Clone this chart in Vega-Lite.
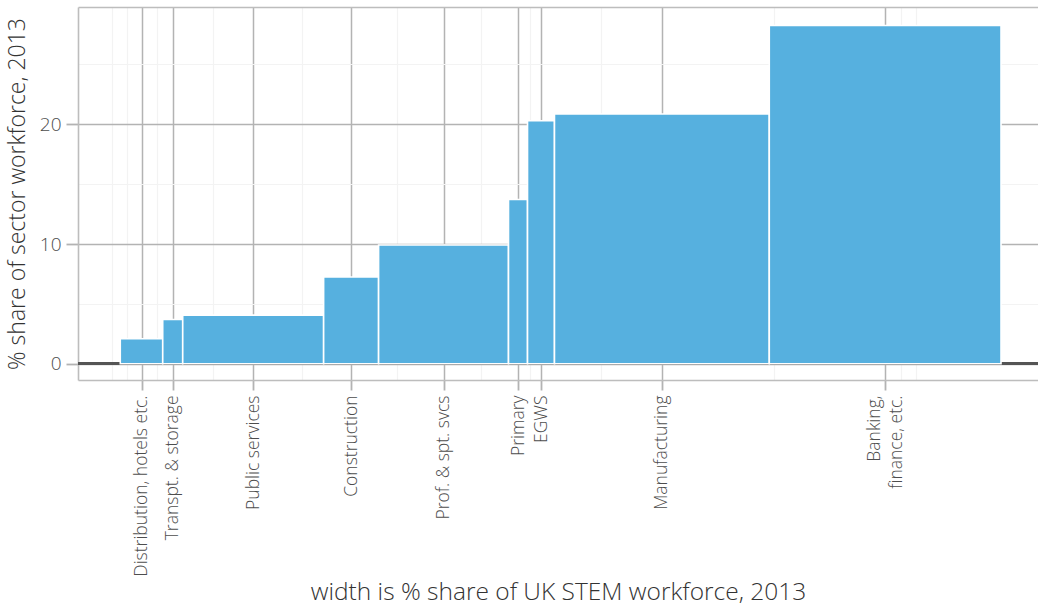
{
  "$schema": "https://vega.github.io/schema/vega-lite/v6.json",
  "autosize": "none",
  "width": 960,
  "height": 373,
  "padding": {"left": 78, "top": 7, "right": 0, "bottom": 230},
  "background": "white",
  "config": {
    "view": {"stroke": null},
    "font": "Open Sans",
    "axis": {"labelFont": "Open Sans", "titleFont": "Open Sans", "titleFontWeight": 300, "labelFontWeight": 300}
  },
  "data": {
    "values": [
      {"sector": "Distribution, hotels etc.", "xmin": 0, "xmax": 4.82, "mid": 2.41, "share": 2.08},
      {"sector": "Transpt. & storage", "xmin": 4.82, "xmax": 7.09, "mid": 5.955, "share": 3.7},
      {"sector": "Public services", "xmin": 7.09, "xmax": 23.09, "mid": 15.09, "share": 4.06},
      {"sector": "Construction", "xmin": 23.09, "xmax": 29.33, "mid": 26.21, "share": 7.25},
      {"sector": "Prof. & spt. svcs", "xmin": 29.33, "xmax": 44.08, "mid": 36.705, "share": 9.92},
      {"sector": "Primary", "xmin": 44.08, "xmax": 46.24, "mid": 45.16, "share": 13.72},
      {"sector": "EGWS", "xmin": 46.24, "xmax": 49.3, "mid": 47.77, "share": 20.3},
      {"sector": "Manufacturing", "xmin": 49.3, "xmax": 73.69, "mid": 61.495, "share": 20.86},
      {"sector": "Banking, finance, etc.", "xmin": 73.69, "xmax": 100, "mid": 86.845, "share": 28.25}
    ]
  },
  "resolve": {"axis": {"x": "independent", "y": "independent"}},
  "layer": [
    {
      "mark": {"type": "bar", "opacity": 0},
      "encoding": {
        "x": {"field": "xmin", "type": "quantitative",
          "scale": {"domain": [-4.8, 104.2], "nice": false, "zero": false},
          "axis": {"orient": "top", "values": [-0.91, 0.79, 4.18, 10.52, 20.65, 31.46, 40.93, 46.47, 54.63, 74.17, 88.7, 90.4],
            "grid": true, "gridColor": "#f3f3f3", "gridWidth": 1.2, "ticks": false, "labels": false, "title": null,
            "domain": true, "domainColor": "#bdbdbd", "domainWidth": 1.6}},
        "x2": {"field": "xmax"},
        "y": {"field": "share", "type": "quantitative",
          "scale": {"domain": [-1.36, 29.8], "nice": false, "zero": false},
          "axis": {"orient": "right", "values": [5, 15, 25], "grid": true, "gridColor": "#f3f3f3", "gridWidth": 1.2,
            "ticks": false, "labels": false, "domain": false, "title": null}},
        "y2": {"datum": 0}
      }
    },
    {
      "mark": {"type": "rule", "color": "#555555", "strokeWidth": 2.2},
      "encoding": {"y": {"datum": 0, "axis": null}}
    },
    {
      "mark": {"type": "bar", "color": "#56b0df", "stroke": "white", "strokeWidth": 1.6},
      "encoding": {
        "x": {"field": "xmin", "type": "quantitative",
          "axis": {"orient": "bottom", "values": [2.41, 5.955, 15.09, 26.21, 36.705, 45.16, 47.77, 61.495, 86.845],
            "labelExpr": "datum.value < 4 ? 'Distribution, hotels etc.' : datum.value < 10 ? 'Transpt. & storage' : datum.value < 20 ? 'Public services' : datum.value < 30 ? 'Construction' : datum.value < 40 ? 'Prof. & spt. svcs' : datum.value < 46 ? 'Primary' : datum.value < 50 ? 'EGWS' : datum.value < 70 ? 'Manufacturing' : ['Banking,', 'finance, etc.']",
            "labelAngle": -90, "labelAlign": "right", "labelBaseline": "middle", "labelOverlap": false, "labelBound": false, "labelFlush": false, "labelLimit": 0,
            "labelOffset": {"condition": {"test": "datum.value > 80", "value": -11}, "value": 0},
            "labelFontSize": 17.5, "labelColor": "#4d4d4d", "labelPadding": 5, "labelLineHeight": 22,
            "grid": true, "gridColor": "#b3b3b3", "gridWidth": 1.5,
            "ticks": true, "tickSize": 10, "tickColor": "#b3b3b3", "tickWidth": 1.8,
            "domain": true, "domainColor": "#bdbdbd", "domainWidth": 1.6,
            "title": "width is % share of UK STEM workforce, 2013", "titleFontSize": 24.5, "titleColor": "#333333", "titlePadding": 4}},
        "x2": {"field": "xmax"},
        "y": {"field": "share", "type": "quantitative",
          "axis": {"orient": "left", "values": [0, 10, 20], "grid": true, "gridColor": "#b3b3b3", "gridWidth": 1.5,
            "ticks": true, "tickSize": 12, "tickColor": "#b3b3b3", "tickWidth": 1.8,
            "domain": true, "domainColor": "#bdbdbd", "domainWidth": 1.6,
            "labelFontSize": 19, "labelColor": "#4d4d4d", "labelPadding": 5,
            "title": "% share of sector workforce, 2013", "titleFontSize": 23, "titleColor": "#333333", "titlePadding": 10}},
        "y2": {"datum": 0}
      }
    }
  ]
}
